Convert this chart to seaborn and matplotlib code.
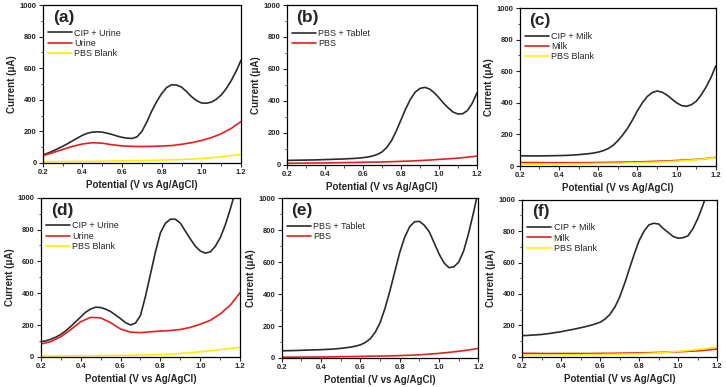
import matplotlib
matplotlib.use("Agg")
import matplotlib.pyplot as plt
from matplotlib.ticker import AutoMinorLocator
import seaborn as sns

sns.set_style("ticks")
plt.rcParams['font.family'] = ['Liberation Sans', 'DejaVu Sans']

# potential (V vs Ag/AgCl): background curves read every 0.05 V,
# CIP / tablet curves read every 0.025 V (they bend sharply)
volt = [0.2, 0.25, 0.3, 0.35, 0.4, 0.45, 0.5, 0.55, 0.6, 0.65, 0.7,
        0.75, 0.8, 0.85, 0.9, 0.95, 1.0, 1.05, 1.1, 1.15, 1.2]
volt_fine = [0.2, 0.225, 0.25, 0.275, 0.3, 0.325, 0.35, 0.375, 0.4, 0.425,
             0.45, 0.475, 0.5, 0.525, 0.55, 0.575, 0.6, 0.625, 0.65, 0.675,
             0.7, 0.725, 0.75, 0.775, 0.8, 0.825, 0.85, 0.875, 0.9, 0.925,
             0.95, 0.975, 1.0, 1.025, 1.05, 1.075, 1.1, 1.125, 1.15, 1.175, 1.2]

# (a)
a_cip_urine = [50, 62, 75, 90, 105, 122, 140, 158, 175, 188,
               195, 197, 195, 188, 180, 170, 162, 157, 155, 165,
               200, 260, 330, 390, 440, 478, 495, 493, 480, 452,
               420, 395, 380, 378, 385, 403, 430, 470, 520, 580, 650]
a_urine = [45, 65, 85, 105, 120, 128, 125, 115, 108, 105, 104,
           105, 107, 110, 118, 128, 142, 160, 185, 218, 262]
a_blank = [8, 8, 9, 9, 10, 10, 11, 12, 13, 14, 15,
           16, 18, 20, 22, 25, 28, 33, 38, 46, 55]

# (b)
b_tablet = [28, 28.5, 29, 29.5, 30, 30.5, 31, 32, 33, 34,
            35, 36, 37, 38.5, 40, 42, 45, 49, 55, 65,
            80, 108, 150, 210, 280, 350, 410, 455, 478, 485,
            475, 452, 420, 385, 355, 330, 318, 320, 340, 385, 450]
b_pbs = [10, 10.5, 11, 11.5, 12, 13, 14, 15, 16, 17, 18,
         20, 22, 24, 27, 30, 34, 38, 42, 48, 55]

# (c)
c_cip_milk = [65, 64.5, 64, 64, 64, 64.5, 65, 65.5, 66, 67,
              68, 70, 72, 75, 78, 82, 88, 97, 110, 130,
              160, 197, 240, 292, 350, 400, 440, 465, 475, 468,
              450, 425, 400, 383, 378, 388, 410, 450, 500, 560, 635]
c_milk = [22, 22, 21.5, 21, 21, 21, 21, 21.5, 22, 23, 24,
          25, 26, 28, 30, 32, 35, 38, 42, 47, 55]
c_blank = [12, 12, 12.5, 13, 13, 14, 14.5, 15, 16, 17, 18,
           19.5, 21, 23, 25, 28, 31, 35, 40, 46, 55]

# (d)
d_cip_urine = [95, 100, 110, 123, 140, 163, 190, 220, 250, 280,
               300, 312, 310, 300, 285, 263, 240, 215, 200, 212,
               260, 380, 520, 660, 780, 840, 865, 865, 840, 790,
               740, 695, 665, 652, 660, 695, 750, 830, 930, 1040, 1160]
d_urine = [80, 95, 125, 170, 220, 248, 245, 215, 175, 155, 152,
           157, 162, 165, 172, 185, 205, 230, 270, 325, 405]
d_blank = [5, 5, 6, 6, 7, 7, 8, 8, 9, 10, 11,
           12, 14, 17, 21, 26, 32, 38, 45, 52, 60]

# (e)
e_tablet = [45, 45.5, 46, 47, 48, 49, 50, 51, 52, 53.5,
            55, 57, 60, 64, 68, 74, 82, 97, 120, 160,
            220, 310, 420, 540, 660, 755, 820, 852, 855, 830,
            790, 720, 650, 595, 565, 570, 600, 670, 780, 910, 1050]
e_pbs = [5, 5, 5.5, 6, 6.5, 7, 8, 9, 10, 11, 12,
         13, 15, 17, 20, 24, 29, 35, 42, 50, 60]

# (f)
f_cip_milk = [135, 136, 138, 140, 142, 146, 150, 155, 160, 166,
              172, 178, 185, 192, 200, 209, 220, 240, 270, 315,
              380, 465, 560, 655, 740, 800, 840, 850, 845, 815,
              790, 765, 755, 758, 770, 815, 880, 960, 1050, 1150, 1250]
f_milk = [22, 22, 21, 21, 21, 21, 21, 21, 22, 22, 23,
          24, 25, 26, 28, 30, 32, 35, 38, 43, 50]
f_blank = [10, 10, 11, 11, 12, 12, 13, 14, 15, 16, 17,
           18, 20, 22, 25, 30, 35, 40, 46, 53, 62]

BLACK = '#2b2b2b'
RED = '#e3201f'
YELLOW = '#ffee00'

panels = [
    ('(a)', [0.059, 0.579, 0.273, 0.408],
     [(volt_fine, a_cip_urine, BLACK, 'CIP + Urine'), (volt, a_urine, RED, 'Urine'),
      (volt, a_blank, YELLOW, 'PBS Blank')]),
    ('(b)', [0.395, 0.574, 0.262, 0.413],
     [(volt_fine, b_tablet, BLACK, 'PBS + Tablet'), (volt, b_pbs, RED, 'PBS')]),
    ('(c)', [0.716, 0.571, 0.270, 0.408],
     [(volt_fine, c_cip_milk, BLACK, 'CIP + Milk'), (volt, c_milk, RED, 'Milk'),
      (volt, c_blank, YELLOW, 'PBS Blank')]),
    ('(d)', [0.056, 0.078, 0.275, 0.411],
     [(volt_fine, d_cip_urine, BLACK, 'CIP + Urine'), (volt, d_urine, RED, 'Urine'),
      (volt, d_blank, YELLOW, 'PBS Blank')]),
    ('(e)', [0.388, 0.075, 0.271, 0.413],
     [(volt_fine, e_tablet, BLACK, 'PBS + Tablet'), (volt, e_pbs, RED, 'PBS')]),
    ('(f)', [0.719, 0.078, 0.269, 0.406],
     [(volt_fine, f_cip_milk, BLACK, 'CIP + Milk'), (volt, f_milk, RED, 'Milk'),
      (volt, f_blank, YELLOW, 'PBS Blank')]),
]

fig = plt.figure(figsize=(7.26, 3.87), dpi=100)

for tag, rect, series in panels:
    ax = fig.add_axes(rect)
    for xs, vals, col, name in series:
        sns.lineplot(x=xs, y=vals, ax=ax, color=col, label=name, linewidth=1.2)
    ax.set_xlim(0.2, 1.2)
    ax.set_ylim(0, 1000)
    ax.set_xticks([0.2, 0.4, 0.6, 0.8, 1.0, 1.2])
    ax.set_yticks([0, 200, 400, 600, 800, 1000])
    ax.xaxis.set_minor_locator(AutoMinorLocator(2))
    ax.yaxis.set_minor_locator(AutoMinorLocator(2))
    ax.tick_params(which='major', length=3, width=0.8, labelsize=5.5, pad=1.5)
    ax.tick_params(which='minor', length=1.8, width=0.6)
    for lbl in ax.get_xticklabels() + ax.get_yticklabels():
        lbl.set_fontweight('bold')
    for sp in ax.spines.values():
        sp.set_linewidth(0.9)
        sp.set_color('black')
    ax.set_xlabel('Potential (V vs Ag/AgCl)', fontsize=7, fontweight='bold', labelpad=3)
    ax.set_ylabel('Current (μA)', fontsize=7, fontweight='bold', labelpad=2)
    ax.text(0.05, 0.97, tag, transform=ax.transAxes, fontsize=12.5,
            fontweight='bold', va='top', ha='left')
    ax.legend(loc='upper left', bbox_to_anchor=(0.0, 0.885), frameon=False,
              fontsize=6.5, handlelength=2.6, handletextpad=0.3,
              labelspacing=0.15, borderaxespad=0.2)

fig.savefig('out.png', dpi=100)
